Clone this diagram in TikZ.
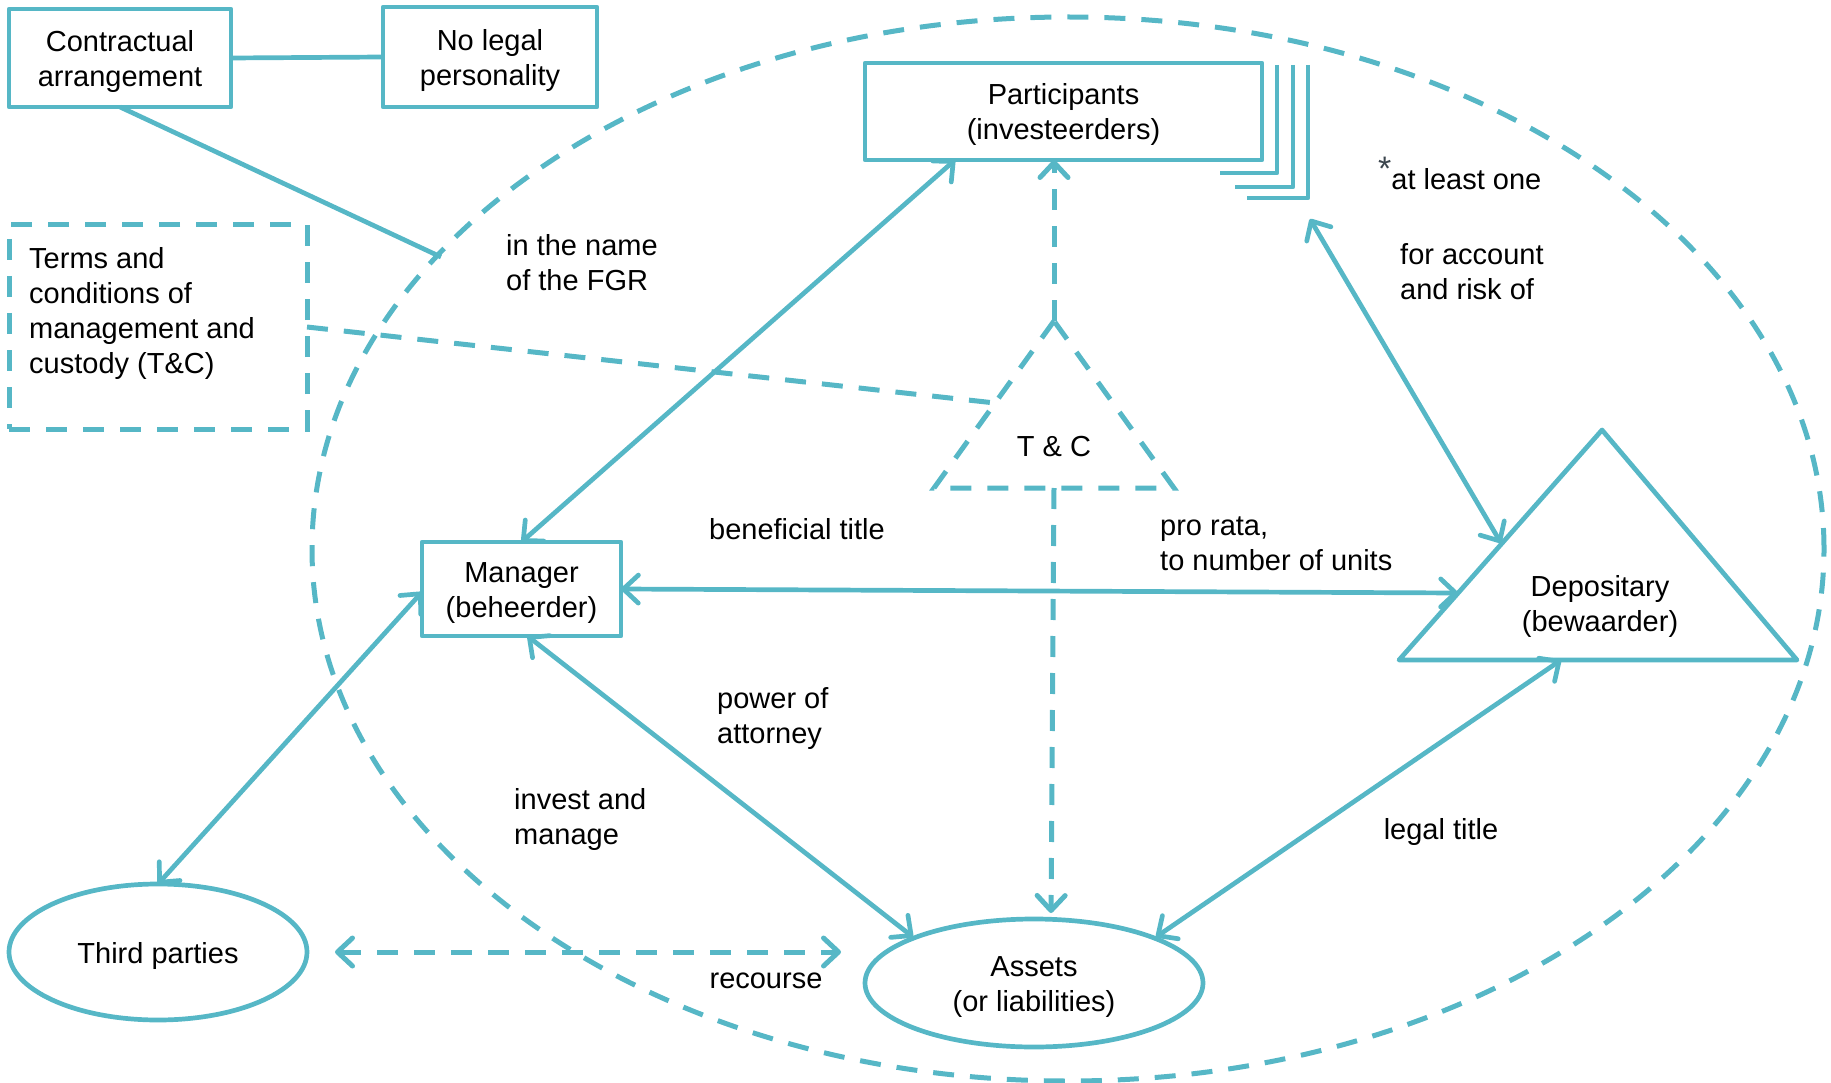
\documentclass[tikz,border=0pt]{standalone}
\usepackage{fontspec}
\setmainfont{Liberation Sans}
\usetikzlibrary{arrows.meta,shapes.geometric,calc}
\definecolor{fgr}{RGB}{86,183,198}
\definecolor{stargray}{RGB}{60,70,78}
\newcommand\lowtext[1]{\raisebox{-4pt}[\height][\depth]{\begin{tabular}{@{}c@{}}#1\end{tabular}}}
\begin{document}
\begin{tikzpicture}[x=1pt,y=-1pt,
  every node/.style={font=\fontsize{29}{35}\selectfont, text=black},
  fline/.style={draw=fgr, line width=4.7pt, line join=round},
  dline/.style={draw=fgr, line width=5pt, dash pattern=on 21pt off 16pt},
  boxnode/.style={fline, rectangle, inner sep=0pt, outer sep=0pt},
  ellnode/.style={fline, ellipse, inner sep=0pt, outer sep=0pt},
  lbl/.style={align=left, anchor=west, inner sep=0pt},
  clbl/.style={align=center, inner sep=0pt},
  biarrow/.style={fline, {Straight Barb[length=15pt,width=28pt,round]}-{Straight Barb[length=15pt,width=28pt,round]}},
  onearrow/.style={-{Straight Barb[length=15pt,width=28pt,round]}}
]
\useasboundingbox (0,0) rectangle (1831,1083);

% big dashed ellipse (FGR)
\draw[dline] (1068,549) ellipse [x radius=756pt, y radius=532pt];

% boxes
\node[boxnode, minimum width=222pt, minimum height=98pt] (contr) at (120,58) {\lowtext{Contractual\\arrangement}};
\node[boxnode, minimum width=214pt, minimum height=100pt] (nolegal) at (490,57) {\lowtext{No legal\\personality}};
\node[boxnode, minimum width=397pt, minimum height=97pt] (part) at (1063.5,111.5) {\lowtext{Participants\\(investeerders)}};
\node[boxnode, minimum width=199pt, minimum height=94pt] (mgr) at (521.5,589) {\lowtext{Manager\\(beheerder)}};
\node[rectangle, dline, minimum width=298pt, minimum height=204pt, inner sep=0pt, outer sep=0pt] (terms) at (158,327) {};
\node[lbl] (termstxt) at (29,313.5) {Terms and\\conditions of\\management and\\custody (T\&C)};

% ellipses
\node[ellnode, minimum width=298pt, minimum height=136pt] (thirdp) at (158,952) {\lowtext{Third parties}};
\node[ellnode, minimum width=338pt, minimum height=128pt] (assets) at (1034,983) {\lowtext{Assets\\(or liabilities)}};

% participants stack
\draw[fline] (1277,65) -- (1277,173) -- (1220,173);
\draw[fline] (1293,65) -- (1293,187) -- (1235,187);
\draw[fline] (1308,65) -- (1308,198) -- (1247,198);

% depositary triangle
\coordinate (depA) at (1602,430);
\coordinate (depL) at (1399,660);
\coordinate (depR) at (1797,660);
\draw[fline] (depA) -- (depL) -- (depR) -- cycle;
\node[clbl] (dep) at (1600,606.5) {Depositary\\(bewaarder)};

% T&C triangle
\coordinate (tcA) at (1054,321);
\coordinate (tcL) at (934,488);
\coordinate (tcR) at (1174,488);
\coordinate (tcB) at (1054,488);
\draw[dline] (tcA) -- (tcL) -- (tcR) -- cycle;
\node[clbl] (tc) at (1054,447) {T \& C};

% connection points
\coordinate (fgrpt) at (441,257);
\coordinate (tcedge) at (995,403);
\coordinate (depLa) at (1458,593);
\coordinate (depLb) at (1501,543);
\coordinate (stackpt) at (1310,219);
\coordinate (depBase) at (1561,660);
\coordinate (assetsTL) at (913,937);
\coordinate (assetsTR) at (1156,937);
\coordinate (assetsTop) at (1051,913);
\coordinate (recR) at (841,952);

% plain connectors
\draw[fline] (contr.east) -- (nolegal.west);
\draw[fline] (contr.south) -- (fgrpt);
\draw[dline] (terms.east) -- (tcedge);

% solid double arrows
\draw[biarrow] (mgr.north) -- ($(part.south west)+(90,0)$);
\draw[biarrow] (mgr.east) -- (depLa);
\draw[biarrow] (stackpt) -- (depLb);
\draw[biarrow] ($(mgr.south)+(6,0)$) -- (assetsTL);
\draw[biarrow] ($(mgr.west)+(0,3)$) -- (thirdp.north);
\draw[biarrow] (depBase) -- (assetsTR);

% dashed arrows
\draw[dline, {Straight Barb[length=15pt,width=28pt,round]}-{Straight Barb[length=15pt,width=28pt,round]}] ($(thirdp.east)+(28,0)$) -- (recR);
\draw[dline, onearrow] (tcA) -- (tcA |- part.south);
\draw[dline, onearrow] (tcB) -- (assetsTop);

% labels
\node[lbl] (lname) at (506,263) {in the name\\of the FGR};
\node[lbl] (lleast) at (1378,173) {{\color{stargray}\raisebox{9pt}{\fontsize{34}{34}\selectfont *}}at least one};
\node[lbl] (lacct) at (1400,272) {for account\\and risk of};
\node[clbl] (lben) at (797,529) {beneficial title};
\node[lbl] (lpro) at (1160,544) {pro rata,\\to number of units};
\node[lbl] (lpow) at (717,718.5) {power of\\attorney};
\node[lbl] (linv) at (514,819) {invest and\\manage};
\node[clbl] (llegal) at (1441,831.5) {legal title};
\node[clbl] (lrec) at (766,980.5) {recourse};
\end{tikzpicture}
\end{document}
